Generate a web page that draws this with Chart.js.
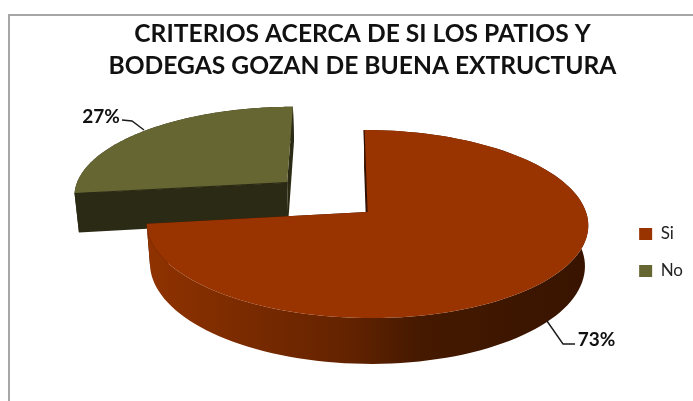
<!DOCTYPE html>
<html>
<head>
<meta charset="utf-8">
<title>Patios y bodegas</title>
<script src="https://cdn.jsdelivr.net/npm/chart.js@4"></script>
<style>
  html, body { margin: 0; padding: 0; background: #fff; }
  #wrap { position: relative; width: 693px; height: 401px; overflow: hidden; }
  #frame { position: absolute; left: 8px; top: 14px; width: 700px; height: 400px; border: 2px solid #a6a6a6; box-sizing: border-box; }
  #chart { position: absolute; left: 0; top: 0; }
</style>
</head>
<body>
<div id="wrap">
  <div id="frame"></div>
  <canvas id="chart" width="693" height="401"></canvas>
</div>
<script>
const categories = ['Si', 'No'];
const percentages = [73, 27];
const sliceColors = ['#993300', '#666633'];
const titleLines = ['CRITERIOS ACERCA DE SI LOS PATIOS Y', 'BODEGAS GOZAN DE BUENA EXTRUCTURA'];

// perspective of the tilted disc, apex of the unexploded slice at cx, cy
const view = { cx: 367, cy: 212, rx: 219, ry: 92.5, p: -0.1277, skew: 3.4, depth: 40, shrink: 0.985 };

function project(u, v, lower) {
    const w = 1 + view.p * v;
    let x = view.cx + (view.rx * u + view.skew * v) / w;
    let y = view.cy + view.ry * v / w;
    if (lower) {
        x = view.cx + (x - view.cx) * view.shrink;
        y += view.depth / w;
    }
    return { x: x, y: y };
}

function sliceOutline(el, lower) {
    const start = el.startAngle, end = el.endAngle, mid = (start + end) / 2;
    const off = (el.options.offset || 0) / 100;
    const ox = Math.cos(mid) * off, oy = Math.sin(mid) * off;
    const rim = [];
    for (let i = 0; i <= 120; i++) {
        const a = start + (end - start) * i / 120;
        rim.push(project(ox + Math.cos(a), oy + Math.sin(a), lower));
    }
    return { rim: rim, apex: project(ox, oy, lower) };
}

function tracePoints(ctx, pts) {
    ctx.beginPath();
    pts.forEach((p, i) => i ? ctx.lineTo(p.x, p.y) : ctx.moveTo(p.x, p.y));
    ctx.closePath();
}

function drawSlice(ctx, el, color, wall, edge) {
    const top = sliceOutline(el, false);
    const low = sliceOutline(el, true);
    // cut faces and outer wall first, the top face covers what is hidden
    ctx.fillStyle = edge;
    tracePoints(ctx, [top.apex, top.rim[0], low.rim[0], low.apex]);
    ctx.fill();
    tracePoints(ctx, [top.apex, top.rim[120], low.rim[120], low.apex]);
    ctx.fill();
    ctx.fillStyle = wall;
    tracePoints(ctx, top.rim.concat(low.rim.slice().reverse()));
    ctx.fill();
    ctx.fillStyle = color;
    tracePoints(ctx, [top.apex].concat(top.rim));
    ctx.fill();
    // thin dark seam along the straight edge going to the back
    ctx.strokeStyle = edge;
    ctx.lineWidth = 1.2;
    ctx.beginPath();
    ctx.moveTo(top.rim[0].x, top.rim[0].y);
    ctx.lineTo(top.apex.x, top.apex.y);
    ctx.stroke();
}

function drawLeader(ctx, pts) {
    ctx.strokeStyle = '#1a1a1a';
    ctx.lineWidth = 1.4;
    ctx.beginPath();
    pts.forEach((p, i) => i ? ctx.lineTo(p[0], p[1]) : ctx.moveTo(p[0], p[1]));
    ctx.stroke();
}

const pie3d = {
    id: 'pie3d',
    afterLayout(chart) {
        // legend sits lower than the middle of the chart area
        chart.legend.top += 44;
        chart.legend.bottom += 44;
    },
    beforeDatasetDraw(chart) {
        const ctx = chart.ctx;
        const arcs = chart.getDatasetMeta(0).data;
        const wall = ctx.createLinearGradient(150, 0, 585, 0);
        wall.addColorStop(0, '#8f3200');
        wall.addColorStop(0.45, '#642300');
        wall.addColorStop(0.62, '#451900');
        wall.addColorStop(1, '#381400');
        ctx.save();
        drawSlice(ctx, arcs[1], sliceColors[1], '#2b2a14', '#2b2a14');
        drawSlice(ctx, arcs[0], sliceColors[0], wall, '#2e1000');

        drawLeader(ctx, [[122, 120], [132, 121], [144, 130]]);
        drawLeader(ctx, [[547, 321], [563, 344], [575, 344]]);
        ctx.fillStyle = '#111';
        ctx.font = 'bold 19px Lato';
        ctx.textAlign = 'center';
        ctx.textBaseline = 'middle';
        ctx.fillText(percentages[1] + '%', 101, 117);
        ctx.fillText(percentages[0] + '%', 596.5, 340);
        ctx.restore();
        return false;
    }
};

new Chart(document.getElementById('chart').getContext('2d'), {
    type: 'pie',
    data: {
        labels: categories,
        datasets: [{
            data: percentages,
            backgroundColor: sliceColors,
            offset: [0, 50],
            borderWidth: 0
        }]
    },
    options: {
        responsive: false,
        animation: false,
        layout: { padding: { left: 32, top: 16 } },
        plugins: {
            tooltip: { enabled: false },
            title: {
                display: true,
                text: titleLines,
                color: '#111',
                font: { family: 'Lato', size: 24.6, weight: 'bold', lineHeight: 1.31 },
                padding: { top: 2, bottom: 10 }
            },
            legend: {
                position: 'right',
                labels: {
                    boxWidth: 13,
                    boxHeight: 12,
                    padding: 20,
                    color: '#222',
                    font: { family: 'Lato', size: 17 }
                }
            }
        }
    },
    plugins: [pie3d]
});
</script>
</body>
</html>
